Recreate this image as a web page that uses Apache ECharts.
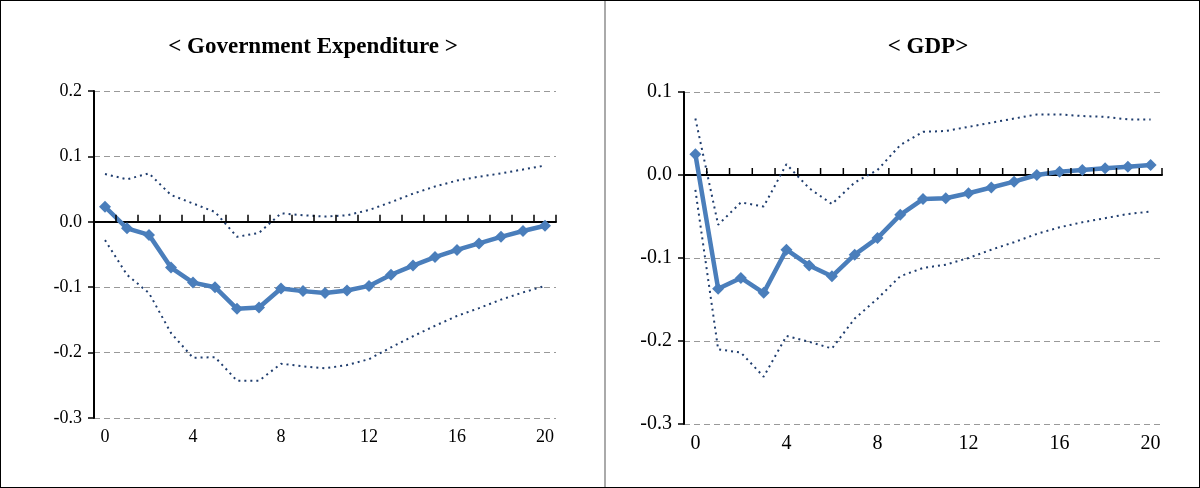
<!DOCTYPE html>
<html>
<head>
<meta charset="utf-8">
<style>
body {margin:0; background:#fff}
#main {width:1200px; height:488px; box-sizing:border-box; border:1px solid #000}
</style>
<script src="https://cdn.jsdelivr.net/npm/echarts@6/dist/echarts.min.js"></script>
</head>
<body>
<div id="main"></div>
<script>
var periods = [];
for (var i = 0; i <= 20; i++) periods.push(String(i));

var govMid = [0.023,-0.010,-0.020,-0.070,-0.093,-0.100,-0.133,-0.131,-0.102,-0.106,-0.109,-0.105,-0.098,-0.081,-0.067,-0.054,-0.043,-0.033,-0.023,-0.014,-0.006];
var govUp  = [0.073,0.065,0.074,0.041,0.028,0.015,-0.023,-0.017,0.013,0.010,0.008,0.010,0.018,0.030,0.043,0.054,0.063,0.069,0.074,0.080,0.086];
var govLo  = [-0.028,-0.081,-0.109,-0.170,-0.208,-0.207,-0.243,-0.243,-0.217,-0.221,-0.224,-0.219,-0.210,-0.192,-0.175,-0.159,-0.144,-0.132,-0.119,-0.108,-0.098];

var gdpMid = [0.025,-0.137,-0.124,-0.142,-0.090,-0.109,-0.122,-0.096,-0.076,-0.048,-0.029,-0.028,-0.022,-0.015,-0.008,0.000,0.004,0.006,0.008,0.010,0.012];
var gdpUp  = [0.068,-0.060,-0.033,-0.038,0.013,-0.016,-0.035,-0.009,0.006,0.036,0.052,0.053,0.058,0.063,0.068,0.073,0.073,0.071,0.070,0.067,0.067];
var gdpLo  = [-0.018,-0.210,-0.214,-0.243,-0.194,-0.201,-0.209,-0.173,-0.149,-0.122,-0.112,-0.108,-0.100,-0.090,-0.081,-0.071,-0.063,-0.057,-0.052,-0.047,-0.044];

var font = '"Liberation Serif", "Times New Roman", serif';
var chart = echarts.init(document.getElementById('main'));

var boxL = {left: 93, right: 643, top: 90, bottom: 69};
var boxR = {left: 683, right: 37, top: 91, bottom: 63};

function zeroAxis(gi) {
    return {
        type: 'category', gridIndex: gi, data: periods,
        axisLine: {onZero: true, lineStyle: {color: '#000', width: 2}},
        axisTick: {show: false},
        axisLabel: {show: false}
    };
}
// overlay grids carry only the tick labels along the bottom edge
function labelAxis(gi, fs) {
    return {
        type: 'category', gridIndex: gi, data: periods,
        axisLine: {show: false, onZero: false}, axisTick: {show: false},
        axisLabel: {interval: 3, color: '#000', fontFamily: font, fontSize: fs, margin: 10}
    };
}
function yAxis(gi, min, max, fs) {
    return {
        type: 'value', gridIndex: gi, min: min, max: max, interval: 0.1,
        axisLine: {show: true, lineStyle: {color: '#000', width: 2}},
        axisTick: {show: true, length: 6, lineStyle: {color: '#000', width: 1.5}},
        axisLabel: {color: '#000', fontFamily: font, fontSize: fs, margin: 12,
            formatter: function (v) { return v.toFixed(1); }},
        splitLine: {lineStyle: {color: '#999', type: [6, 4]}}
    };
}
function blankY(gi) {
    return {type: 'value', gridIndex: gi, show: false, min: 0, max: 1};
}
function mid(xi, yi, d) {
    return {type: 'line', xAxisIndex: xi, yAxisIndex: yi, data: d,
        symbol: 'diamond', symbolSize: 12, lineStyle: {color: '#4a7ebb', width: 4.5},
        itemStyle: {color: '#4a7ebb'}, z: 5};
}
function band(xi, yi, d) {
    return {type: 'line', xAxisIndex: xi, yAxisIndex: yi, data: d, symbol: 'none',
        lineStyle: {color: '#1f3d6e', width: 2, type: [2, 4]}};
}
// small upward ticks on the zero line at each category boundary
function zeroTicks(xi, yi) {
    return {
        type: 'custom', xAxisIndex: xi, yAxisIndex: yi, silent: true, z: 6,
        data: periods.map(function (p, k) { return [k, 0]; }),
        renderItem: function (params, api) {
            var c = api.coord([api.value(0), 0]);
            var w = api.size([1, 0])[0];
            var x = c[0] + w / 2;
            return {type: 'line', shape: {x1: x, y1: c[1], x2: x, y2: c[1] - 7},
                style: {stroke: '#000', lineWidth: 1.5}};
        }
    };
}

chart.setOption({
    animation: false,
    graphic: [{type: 'line', shape: {x1: 604, y1: 0, x2: 604, y2: 488},
        style: {stroke: '#aaa', lineWidth: 2}}],
    title: [
        {text: '< Government Expenditure >', left: 307, top: 30, textAlign: 'center',
         textStyle: {fontFamily: font, fontSize: 23, fontWeight: 'bold', color: '#000'}},
        {text: '< GDP>', left: 922, top: 30, textAlign: 'center',
         textStyle: {fontFamily: font, fontSize: 23, fontWeight: 'bold', color: '#000'}}
    ],
    grid: [boxL, boxR, boxL, boxR],
    xAxis: [zeroAxis(0), zeroAxis(1), labelAxis(2, 18), labelAxis(3, 20)],
    yAxis: [yAxis(0, -0.3, 0.2, 18), yAxis(1, -0.3, 0.1, 20), blankY(2), blankY(3)],
    series: [
        band(0, 0, govUp), band(0, 0, govLo), mid(0, 0, govMid), zeroTicks(0, 0),
        band(1, 1, gdpUp), band(1, 1, gdpLo), mid(1, 1, gdpMid), zeroTicks(1, 1)
    ]
});
</script>
</body>
</html>
